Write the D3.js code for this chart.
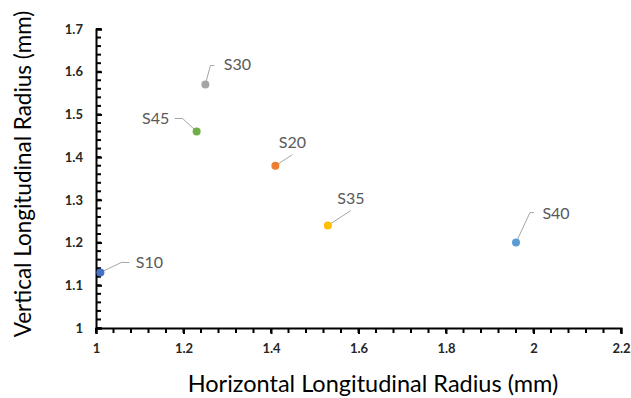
<!DOCTYPE html>
<html>
<head>
<meta charset="utf-8">
<script src="https://cdn.jsdelivr.net/npm/d3@7"></script>
<style>
  html, body { margin: 0; padding: 0; background: #fff; }
  svg { display: block; font-family: Lato, "Open Sans", sans-serif; }
</style>
</head>
<body>
<div id="chart"></div>
<script>
const SAMPLES = ["S10", "S20", "S30", "S35", "S40", "S45"];
const H_RADIUS = [1.01, 1.41, 1.25, 1.53, 1.96, 1.23];
const V_RADIUS = [1.13, 1.38, 1.57, 1.24, 1.20, 1.46];
const COLORS = ["#4472c4", "#ed7d31", "#a5a5a5", "#ffc000", "#5b9bd5", "#70ad47"];

const X_TICKS = [1, 1.2, 1.4, 1.6, 1.8, 2, 2.2];
const Y_TICKS = [1, 1.1, 1.2, 1.3, 1.4, 1.5, 1.6, 1.7];

// label placement relative to each point: text centre + leader line bends
const LABEL_POS = [
  { text: [49, -10], line: [[0, 0], [21, -10], [29, -10]] },
  { text: [17, -23], line: [[0, 0], [17, -11]] },
  { text: [32, -20], line: [[0, 0], [5, -19], [9, -19]] },
  { text: [23, -27], line: [[0, 0], [23, -15]] },
  { text: [40, -29], line: [[0, 0], [14, -30], [18, -30]] },
  { text: [-41, -13], line: [[0, 0], [-14, -13], [-22, -13]] }
];

const width = 631, height = 398;
const margin = { top: 29, right: 10, bottom: 70, left: 96 };

const data = SAMPLES.map((s, i) => ({
  name: s, x: H_RADIUS[i], y: V_RADIUS[i], color: COLORS[i], pos: LABEL_POS[i]
}));

const svg = d3.select("#chart").append("svg")
  .attr("width", width)
  .attr("height", height);

const x = d3.scaleLinear().domain([1, 2.2]).range([margin.left, width - margin.right]);
const y = d3.scaleLinear().domain([1, 1.7]).range([height - margin.bottom, margin.top]);

// minor ticks
const xMinor = d3.range(1, 2.2001, 0.04);
const yMinor = d3.range(1, 1.7001, 0.02);

svg.append("g")
  .selectAll("line")
  .data(xMinor)
  .join("line")
  .attr("x1", d => x(d)).attr("x2", d => x(d))
  .attr("y1", y(1)).attr("y2", y(1) + 5)
  .attr("stroke", "#000").attr("stroke-width", 2);

svg.append("g")
  .selectAll("line")
  .data(yMinor)
  .join("line")
  .attr("x1", x(1)).attr("x2", x(1) + 5)
  .attr("y1", d => y(d)).attr("y2", d => y(d))
  .attr("stroke", "#000").attr("stroke-width", 2);

// axes
const xAxis = svg.append("g")
  .attr("transform", `translate(0,${y(1)})`)
  .call(d3.axisBottom(x).tickValues(X_TICKS).tickSize(6).tickPadding(10).tickFormat(d3.format("")));

const yAxis = svg.append("g")
  .attr("transform", `translate(${x(1)},0)`)
  .call(d3.axisLeft(y).tickValues(Y_TICKS).tickSize(-6).tickPadding(13).tickFormat(d3.format("")));

[xAxis, yAxis].forEach(g => {
  g.select(".domain").attr("stroke", "#000").attr("stroke-width", 2);
  g.selectAll(".tick line").attr("stroke", "#000").attr("stroke-width", 2);
  g.selectAll(".tick text")
    .attr("fill", "#262626")
    .style("font-size", "13px")
    .style("font-weight", "700")
    .style("font-family", "Lato, sans-serif");
});

// leader lines
const line = d3.line();
svg.append("g")
  .selectAll("path")
  .data(data)
  .join("path")
  .attr("d", d => line(d.pos.line.map(p => [x(d.x) + p[0], y(d.y) + p[1]])))
  .attr("fill", "none")
  .attr("stroke", "#a6a6a6")
  .attr("stroke-width", 1);

// points
svg.append("g")
  .selectAll("circle")
  .data(data)
  .join("circle")
  .attr("cx", d => x(d.x))
  .attr("cy", d => y(d.y))
  .attr("r", 4)
  .attr("fill", d => d.color);

// data labels
svg.append("g")
  .selectAll("text")
  .data(data)
  .join("text")
  .attr("x", d => x(d.x) + d.pos.text[0])
  .attr("y", d => y(d.y) + d.pos.text[1])
  .attr("text-anchor", "middle")
  .attr("dy", "0.35em")
  .attr("fill", "#595959")
  .style("font-size", "16px")
  .text(d => d.name);

// axis titles
svg.append("text")
  .attr("x", 373)
  .attr("y", 392)
  .attr("text-anchor", "middle")
  .attr("fill", "#000")
  .style("font-size", "23.5px")
  .text("Horizontal Longitudinal Radius (mm)");

svg.append("text")
  .attr("transform", "translate(31,174) rotate(-90)")
  .attr("text-anchor", "middle")
  .attr("fill", "#000")
  .style("font-size", "22.5px")
  .text("Vertical Longitudinal Radius (mm)");
</script>
</body>
</html>
